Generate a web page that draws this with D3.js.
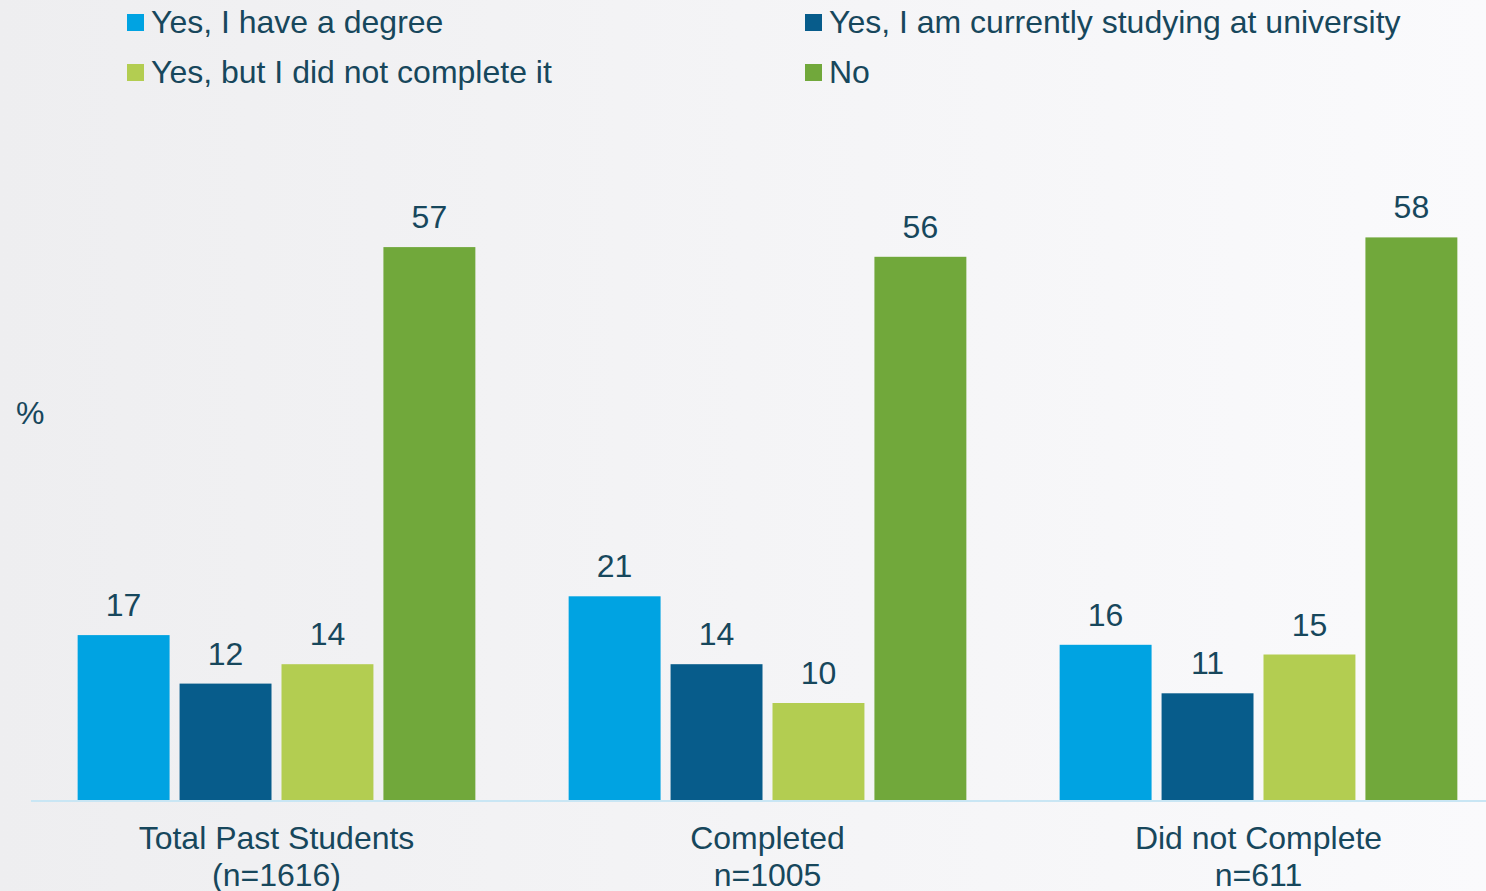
<!DOCTYPE html>
<html>
<head>
<meta charset="utf-8">
<script src="https://cdn.jsdelivr.net/npm/d3@7"></script>
<style>
  html, body { margin: 0; padding: 0; }
  body { width: 1486px; height: 891px; overflow: hidden; }
  text { font-family: "Liberation Sans", Arial, sans-serif; fill: #17475c; }
</style>
</head>
<body>
<svg id="chart" width="1486" height="891"></svg>
<script>
// Survey groups shown along the x axis (two-line labels)
const categories = ["Total Past Students", "Completed", "Did not Complete"];
const categorySubLabels = ["(n=1616)", "n=1005", "n=611"];

// Answer options (legend order)
const seriesNames = [
  "Yes, I have a degree",
  "Yes, I am currently studying at university",
  "Yes, but I did not complete it",
  "No"
];
const seriesColors = ["#00a3e2", "#075c8b", "#b3cd51", "#71a83b"];

// Percentages per answer, one value per group
const degree    = [17, 21, 16];
const studying  = [12, 14, 11];
const notDone   = [14, 10, 15];
const noAnswer  = [57, 56, 58];
const seriesValues = [degree, studying, notDone, noAnswer];

const svg = d3.select("#chart");
const W = 1486, H = 891;
const FS = 32;

// soft grey-to-white backdrop
const defs = svg.append("defs");
const grad = defs.append("linearGradient").attr("id", "bg")
  .attr("x1", "0%").attr("y1", "0%").attr("x2", "100%").attr("y2", "0%");
grad.append("stop").attr("offset", "0%").attr("stop-color", "#eeeef0");
grad.append("stop").attr("offset", "100%").attr("stop-color", "#fafafc");
svg.append("rect").attr("width", W).attr("height", H).attr("fill", "url(#bg)");

const baseY = 800;
const y = d3.scaleLinear().domain([0, 58]).range([baseY, baseY - 58 * 9.7]);

const x0 = d3.scaleBand().domain(categories).range([31, 1504])
  .paddingInner(0.19).paddingOuter(0.095);
const x1 = d3.scaleBand().domain(seriesNames).range([0, x0.bandwidth()])
  .paddingInner(0.098);

// bars
const groups = svg.append("g").selectAll("g")
  .data(categories).join("g")
  .attr("transform", d => `translate(${x0(d)},0)`);

groups.each(function(cat, ci) {
  const g = d3.select(this);
  const rows = seriesNames.map((s, si) => ({ s, si, v: seriesValues[si][ci] }));
  g.selectAll("rect").data(rows).join("rect")
    .attr("x", d => x1(d.s))
    .attr("y", d => y(d.v))
    .attr("width", x1.bandwidth())
    .attr("height", d => baseY - y(d.v))
    .attr("fill", d => seriesColors[d.si]);
  g.selectAll("text.val").data(rows).join("text")
    .attr("class", "val")
    .attr("x", d => x1(d.s) + x1.bandwidth() / 2)
    .attr("y", d => y(d.v) - 19)
    .attr("text-anchor", "middle")
    .attr("font-size", FS)
    .text(d => d.v);
});

// baseline
svg.append("line")
  .attr("x1", 31).attr("x2", W)
  .attr("y1", baseY + 1).attr("y2", baseY + 1)
  .attr("stroke", "#c9e6f4").attr("stroke-width", 2);

// category labels
const catLabels = svg.append("g").selectAll("text")
  .data(categories).join("text")
  .attr("text-anchor", "middle")
  .attr("font-size", FS)
  .attr("x", d => x0(d) + x0.bandwidth() / 2);
catLabels.append("tspan").attr("x", d => x0(d) + x0.bandwidth() / 2).attr("y", 849).text(d => d);
catLabels.append("tspan").attr("x", d => x0(d) + x0.bandwidth() / 2).attr("y", 886)
  .text((d, i) => categorySubLabels[i]);

// axis unit
svg.append("text").attr("x", 16).attr("y", 424).attr("font-size", FS).text("%");

// legend (two columns, two rows)
const legendPos = [[127, 14], [805, 14], [127, 64], [805, 64]];
const legend = svg.append("g").selectAll("g")
  .data(seriesNames).join("g")
  .attr("transform", (d, i) => `translate(${legendPos[i][0]},${legendPos[i][1]})`);
legend.append("rect").attr("width", 17).attr("height", 17)
  .attr("fill", (d, i) => seriesColors[i]);
legend.append("text").attr("x", 24).attr("y", 19).attr("font-size", FS).text(d => d);
</script>
</body>
</html>
